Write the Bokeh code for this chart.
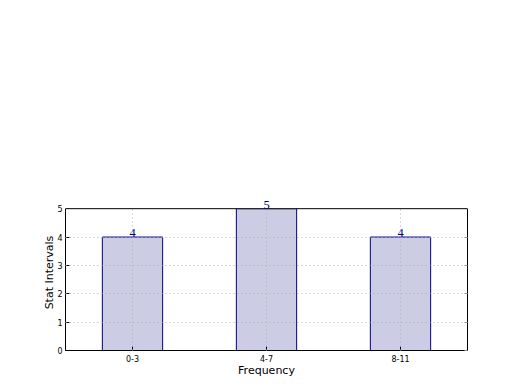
from bokeh.plotting import figure
from bokeh.models import ColumnDataSource, LabelSet, FixedTicker, LinearAxis, Span, BoxAnnotation
from bokeh.embed import file_html
from bokeh.resources import INLINE

categories = ["0-3", "4-7", "8-11"]
counts = [4, 5, 4]
yticks = [0, 1, 2, 3, 4, 5]
ymax = 5

xs = list(range(len(categories)))
src = ColumnDataSource(dict(x=xs, top=counts, lab=[str(c) for c in counts]))

p = figure(width=520, height=390, output_backend="svg", toolbar_location=None,
           x_range=(-0.5, 2.5), y_range=(0, 5.5),
           min_border_left=65, min_border_right=53, min_border_top=194, min_border_bottom=40)

p.vbar(x="x", top="top", bottom=0, width=0.45, source=src,
       fill_color="#ccccE5", line_color="#000080", line_width=1)

right = LinearAxis(bounds=(0, ymax), ticker=FixedTicker(ticks=yticks),
                   major_label_overrides={t: "" for t in yticks}, major_label_standoff=0)
p.add_layout(right, "right")

for ax in (p.xaxis[0], p.yaxis[0], right):
    ax.major_tick_in = 4
    ax.major_tick_out = 0
    ax.minor_tick_in = 0
    ax.minor_tick_out = 0
    ax.axis_line_color = "black"
    ax.major_tick_line_color = "black"
    ax.major_label_text_font = "DejaVu Sans"
    ax.major_label_text_color = "black"
    ax.major_label_text_font_size = "8px"
    ax.axis_label_text_font = "DejaVu Sans"
    ax.axis_label_text_font_size = "11px"
    ax.axis_label_text_font_style = "normal"
    ax.axis_label_text_color = "black"

p.xaxis[0].major_label_standoff = 4
p.yaxis[0].major_label_standoff = 3
p.xaxis[0].axis_label_standoff = -1
p.yaxis[0].axis_label_standoff = -2

right.major_tick_line_color = "#888888"
right.major_tick_in = 3

p.yaxis[0].bounds = (0, ymax)
p.xaxis.ticker = FixedTicker(ticks=xs)
p.xaxis.major_label_overrides = {i: c for i, c in enumerate(categories)}
p.yaxis[0].ticker = FixedTicker(ticks=yticks)
p.xaxis.axis_label = "Frequency"
p.yaxis[0].axis_label = "Stat Intervals"

for g in (p.xgrid[0], p.ygrid[0]):
    g.grid_line_color = "#b0b0b0"
    g.grid_line_dash = "1 3"
    g.grid_line_width = 1
    g.level = "guide"

# white mask above the top of the axes box (hides grid overflow)
mask = BoxAnnotation(bottom=ymax, fill_color="white", fill_alpha=1, line_color=None)
p.add_layout(mask)

top_line = Span(location=ymax, dimension="width", line_color="black", line_width=1)
p.add_layout(top_line)

labels = LabelSet(x="x", y="top", text="lab", source=src, text_align="center",
                  text_baseline="alphabetic", text_color="#000080", text_font_size="12.5px",
                  text_font="DejaVu Sans", y_offset=0)
p.add_layout(labels)

p.outline_line_color = None
p.background_fill_color = "white"
p.border_fill_color = "white"

open("out.html", "w").write(file_html(p, INLINE))
